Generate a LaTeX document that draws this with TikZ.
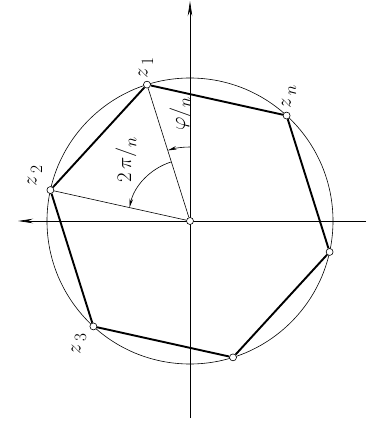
\documentclass[tikz,border=0pt]{standalone}
\usepackage{amsmath}
\usetikzlibrary{arrows.meta}
\usetikzlibrary{calc}

\begin{document}
\begin{tikzpicture}[x=1pt, y=1pt,
    vertex/.style={circle, draw, fill=white, inner sep=0pt, minimum size=7pt, line width=0.6pt},
    side/.style={line width=1.9pt},
    spoke/.style={line width=0.6pt},
    axis/.style={line width=0.7pt, -{Stealth[length=15pt, width=4.5pt]}},
    angarrow/.style={line width=0.6pt, -{Stealth[length=9pt, width=3.5pt]}},
    lbl/.style={rotate=90, inner sep=0pt, font=\fontsize{21}{24}\selectfont}]

  \useasboundingbox (-190,-204) rectangle (177,221);

  \def\n{6} % number of vertices
  \def\rad{143} % radius of the circle
  \def\low#1{\raisebox{-0.6ex}{\fontsize{17}{20}\selectfont$#1$}} % lowered index

  \coordinate (xr) at (176,0);
  \coordinate (xl) at (-172,0);
  \coordinate (yb) at (0,-197);
  \coordinate (yt) at (0,220);

  \draw[axis] (xr) -- (xl);
  \draw[axis] (yb) -- (yt);

  \draw[spoke] (0,0) circle (\rad);

  \foreach \j in {1,...,\n} {
    \pgfmathsetmacro\vangle{107.5 - 360/\n * (\j-1)}
    \node[vertex] (p\j) at (\vangle:\rad) {};
  }
  \node[vertex] (o) at (0,0) {};

  \draw[side] (p1) -- (p2);
  \draw[side] (p2) -- (p3);
  \draw[side] (p3) -- (p4);
  \draw[side] (p4) -- (p5);
  \draw[side] (p5) -- (p6);
  \draw[side] (p6) -- (p1);

  \draw[spoke] (o) -- (p1);
  \draw[spoke] (o) -- (p6);

  % angle arcs
  \draw[angarrow] (90:74) arc[start angle=90, end angle=107.5, radius=74];
  \draw[angarrow] (107.5:62) arc[start angle=107.5, end angle=167.5, radius=62];

  \node[lbl] (l1) at (-44,153) {$z\,\low{1}$};
  \node[lbl] (ln) at (99,124) {$z\,\low{n}$};
  \node[lbl] (l2) at (-155,45) {$z\,\low{2}$};
  \node[lbl] (l3) at (-111,-123) {$z\,\low{3}$};
  \node[lbl] (a2) at (-64,61) {$2\,\pi/\low{n}$};
  \node[lbl] (a1) at (-10,107) {$\varphi/\low{n}$};
\end{tikzpicture}
\end{document}
